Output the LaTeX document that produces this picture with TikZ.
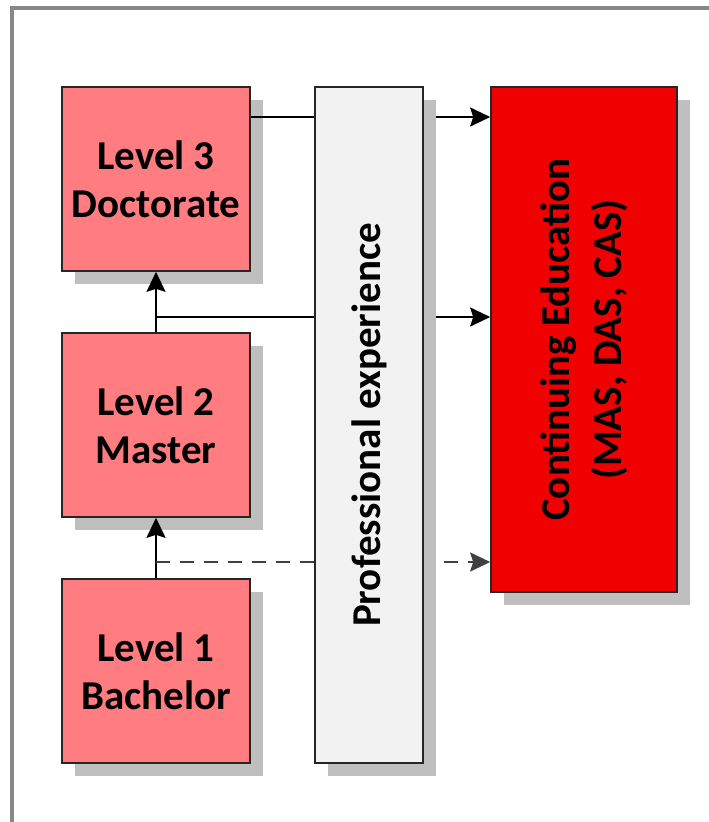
\documentclass[tikz,border=0pt]{standalone}
\usepackage{fontspec}
\setmainfont{Carlito}
\usetikzlibrary{shadows,arrows.meta,calc}
\definecolor{levelpink}{RGB}{255,124,128}
\definecolor{cered}{RGB}{240,0,0}
\definecolor{profgray}{RGB}{242,242,242}
\definecolor{shadowgray}{RGB}{191,191,191}
\definecolor{framegray}{RGB}{135,135,135}
\tikzset{
  boxshadow/.style={drop shadow={shadow xshift=13pt, shadow yshift=-13pt, fill=shadowgray, opacity=1}},
  levelbox/.style={boxshadow, draw=black!85, line width=1.6pt, fill=levelpink,
    minimum width=188pt, minimum height=184pt, inner sep=0pt, align=center,
    font=\bfseries\fontsize{41}{48}\selectfont},
  profbox/.style={boxshadow, draw=black!85, line width=1.6pt, fill=profgray,
    minimum width=108pt, minimum height=676pt, inner sep=0pt},
  cebox/.style={boxshadow, draw=black!85, line width=1.6pt, fill=cered,
    minimum width=186pt, minimum height=505pt, inner sep=0pt},
  vlabel/.style={rotate=90, align=center, font=\bfseries\fontsize{41}{52}\selectfont},
  tip/.style={-{Stealth[length=20pt, width=19pt, inset=3pt]}},
  conn/.style={line width=2.2pt, black},
  dashconn/.style={line width=2.2pt, black!75, dash pattern=on 14pt off 10pt},
}
\begin{document}
\begin{tikzpicture}[x=1pt, y=-1pt]
  \useasboundingbox (0,0) rectangle (709,822);
  \fill[white] (0,0) rectangle (709,822);
  % outer frame (top and left edges)
  \draw[framegray, line width=3.2pt] (12,830) -- (12,8) -- (720,8);

  % degree levels
  \node[levelbox] (l3) at (156,179) {Level 3\\Doctorate};
  \node[levelbox] (l2) at (156,425) {Level 2\\Master};
  \node[levelbox] (l1) at (156,671) {Level 1\\Bachelor};

  % continuing education
  \node[cebox] (ce) at (584,339.5) {};
  \node[vlabel] (cetext) at (ce.center) {Continuing Education\\(MAS, DAS, CAS)};

  % connector rows
  \coordinate (toprow) at (0,117);
  \coordinate (midrow) at (0,317);
  \coordinate (dashrow) at (0,562);

  \draw[conn, tip] (l2.north) -- (l3.south);
  \draw[conn, tip] (l1.north) -- (l2.south);
  \draw[conn, tip] (l3.east |- toprow) -- (ce.west |- toprow);
  \draw[conn, tip] (l2.north |- midrow) -- (ce.west |- midrow);
  \draw[dashconn, tip] (l1.north |- dashrow) -- (ce.west |- dashrow);

  % professional experience bar, laid over the connectors
  \node[profbox] (prof) at (369,425) {};
  \node[vlabel] (proftext) at (prof.center) {Professional experience};
\end{tikzpicture}
\end{document}
